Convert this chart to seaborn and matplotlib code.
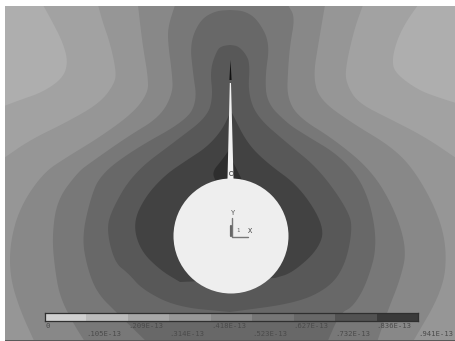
# %% IMPORTS
from matplotlib.colors import ListedColormap
from matplotlib.patches import Circle, Rectangle
import matplotlib
matplotlib.use("Agg")
import matplotlib.pyplot as plt
import numpy as np
import seaborn as sns

# %% DATA
# Contour lines (pixels), each side from top to bottom
corner_left = [(43, 5), (53, 23), (63, 43), (68, 62), (63, 78), (43, 92), (20, 100), (4, 106)]
corner_right = [(418, 5), (406, 22), (397, 40), (392, 60), (395, 73), (418, 90), (440, 98), (456, 103)]

contour_2_left = [(98, 5), (103, 23), (110, 43), (116, 70), (115, 83), (100, 103), (67, 122), (30, 140), (4, 158)]
contour_2_right = [(363, 5), (354, 30), (345, 70), (347, 85), (358, 103), (392, 120), (425, 137), (456, 158)]

contour_3_left = [(138, 5), (140, 23), (143, 47), (148, 77), (148, 93), (133, 113), (100, 137), (67, 157),
                  (43, 173), (20, 207), (10, 243), (10, 277), (20, 310), (36, 345)]
contour_3_right = [(325, 5), (319, 40), (313, 77), (320, 100), (352, 123), (392, 147), (415, 171),
                   (438, 213), (447, 250), (443, 290), (411, 345)]

contour_4_left = [(175, 5), (168, 27), (168, 43), (172, 73), (173, 93), (160, 117), (127, 137), (90, 163),
                  (78, 172), (57, 200), (52, 237), (55, 270), (60, 297), (73, 323), (87, 345)]
contour_4_right = [(288, 5), (295, 17), (290, 45), (288, 70), (287, 97), (298, 117), (335, 140), (372, 171),
                   (395, 210), (407, 250), (400, 280), (388, 310), (376, 345)]

contour_5_left = [(230, 10), (215, 11), (200, 20), (190, 43), (193, 73), (197, 100), (187, 120), (133, 150),
                  (100, 175), (90, 200), (82, 237), (87, 267), (97, 293), (117, 313), (150, 345)]
contour_5_right = [(230, 10), (245, 11), (258, 20), (270, 43), (265, 77), (267, 103), (287, 123), (302, 133),
                   (342, 157), (367, 190), (378, 243), (367, 283), (353, 307), (340, 313), (326, 345)]

contour_6_left = [(230, 45), (222, 46), (217, 50), (210, 70), (213, 97), (207, 117), (177, 140), (133, 173),
                  (110, 213), (107, 233), (115, 263), (128, 273), (143, 290), (177, 307), (230, 312)]
contour_6_right = [(230, 45), (238, 46), (245, 53), (250, 63), (248, 93), (257, 117), (287, 143), (320, 170),
                   (350, 213), (352, 233), (345, 265), (330, 287), (297, 303), (230, 312)]

contour_7_left = [(230, 113), (222, 130), (207, 147), (187, 160), (165, 175), (145, 197), (133, 223), (140, 250),
                  (160, 270), (180, 282)]
contour_7_right = [(232, 113), (247, 143), (267, 163), (300, 187), (325, 227), (318, 250), (292, 273), (275, 278)]

contour_8_left = [(229, 150), (222, 160), (212, 172), (216, 182)]
contour_8_right = [(232, 160), (238, 172), (242, 180)]

needle_x = [229.8, 231.0, 233.5, 227.5]
needle_y = [83, 83, 179, 179]
tip_x = [230.5, 231.6, 229.4]
tip_y = [60, 80, 80]

band_colors = ["#aeaeae", "#a2a2a2", "#969696", "#888888", "#787878", "#686868", "#585858", "#424242", "#2e2e2e"]
legend_colors = ["#d0d0d0", "#bcbcbc", "#a8a8a8", "#989898", "#888888", "#767676", "#686868", "#525252", "#3a3a3a"]
legend_values = [0.0525, 0.157, 0.2615, 0.3685, 0.4705, 0.5755, 0.6795, 0.7845, 0.8885]
level_labels = ["0", ".105E-13", ".209E-13", ".314E-13", ".418E-13", ".523E-13", ".627E-13", ".732E-13",
                ".836E-13", ".941E-13"]


# %% HELPERS
def smooth(points):
    # Chaikin corner cutting, traced points are too sparse to look like contours
    pts = np.array(points, dtype=float)
    for _ in range(3):
        q = 0.75 * pts[:-1] + 0.25 * pts[1:]
        r = 0.25 * pts[:-1] + 0.75 * pts[1:]
        mid = np.empty((len(q) * 2, 2))
        mid[0::2] = q
        mid[1::2] = r
        pts = np.vstack([pts[0], mid, pts[-1]])
    return pts


def fill_band(ax, left, right, color, extra=None):
    outline = [smooth(left)]
    if extra:
        outline.append(np.array(extra, dtype=float))
    outline.append(smooth(right)[::-1])
    outline = np.vstack(outline)
    ax.fill(outline[:, 0], outline[:, 1], color=color, lw=0)


# %% VISUALISE
sns.set_theme(style="white")
plt.rcParams["font.family"] = ["DejaVu Sans Mono"]

fig = plt.figure(figsize=(4.55, 3.41), dpi=100, facecolor="white")
ax = fig.add_axes([0, 0, 1, 1])
ax.set_xlim(0, 455)
ax.set_ylim(341, 0)
ax.axis("off")

# Field, lightest band first and each next one on top
ax.add_patch(Rectangle((5, 6), 450, 335, color=band_colors[1], lw=0))
ax.fill(*np.vstack([smooth(corner_left), [(4, 5)]]).T, color=band_colors[0], lw=0)
ax.fill(*np.vstack([smooth(corner_right), [(456, 5)]]).T, color=band_colors[0], lw=0)
fill_band(ax, contour_2_left, contour_2_right, band_colors[2], extra=[(4, 345), (456, 345)])
fill_band(ax, contour_3_left, contour_3_right, band_colors[3])
fill_band(ax, contour_4_left, contour_4_right, band_colors[4])
fill_band(ax, contour_5_left, contour_5_right, band_colors[5])
fill_band(ax, contour_6_left, contour_6_right, band_colors[6])
fill_band(ax, contour_7_left, contour_7_right, band_colors[7])
fill_band(ax, contour_8_left, contour_8_right, band_colors[8])

# Margins around the model window
ax.add_patch(Rectangle((0, 0), 5, 341, color="white", lw=0))
ax.add_patch(Rectangle((0, 0), 455, 6, color="white", lw=0))
ax.add_patch(Rectangle((5, 339.5), 450, 1.5, color="#5a5a5a", lw=0))

# Hole and crack
ax.add_patch(Circle((231, 236), 57.5, color="#eeeeee", lw=0))
ax.fill(needle_x, needle_y, color="#f2f2f2", lw=0)
ax.fill(tip_x, tip_y, color="#111111", lw=0)
ax.plot(231, 173, "o", ms=3, mfc="none", mec="#555555", mew=0.6)

# Coordinate triad
ax.plot([231.5, 231.5, 248], [218, 236.5, 236.5], color="#777777", lw=1)
ax.plot([231.2, 231.2], [226, 236], color="#666666", lw=1.6)
ax.text(233, 213, "Y", fontsize=5, color="#555555", ha="center", va="center")
ax.text(238, 231, "1", fontsize=4, color="#666666", ha="center", va="center")
ax.text(250.5, 231, "X", fontsize=5, color="#444444", ha="center", va="center")

# Legend strip
strip = fig.add_axes([45 / 455, 1 - 321 / 341, 373 / 455, 8 / 341])
sns.heatmap(
    np.array([legend_values]),
    ax=strip,
    cmap=ListedColormap(legend_colors),
    vmin=0,
    vmax=0.9405,
    cbar=False,
    xticklabels=False,
    yticklabels=False,
)
for spine in strip.spines.values():
    spine.set_visible(True)
    spine.set_color("#2f2f2f")
    spine.set_linewidth(0.9)

# Labels sit under the segment edges, on two alternating rows
for i, label in enumerate(level_labels):
    strip.text(i, 1.65 if i % 2 == 0 else 2.65, label, fontsize=5.2, color="#4a4a4a", ha="left", va="center")

fig.savefig("out.png", dpi=100)
